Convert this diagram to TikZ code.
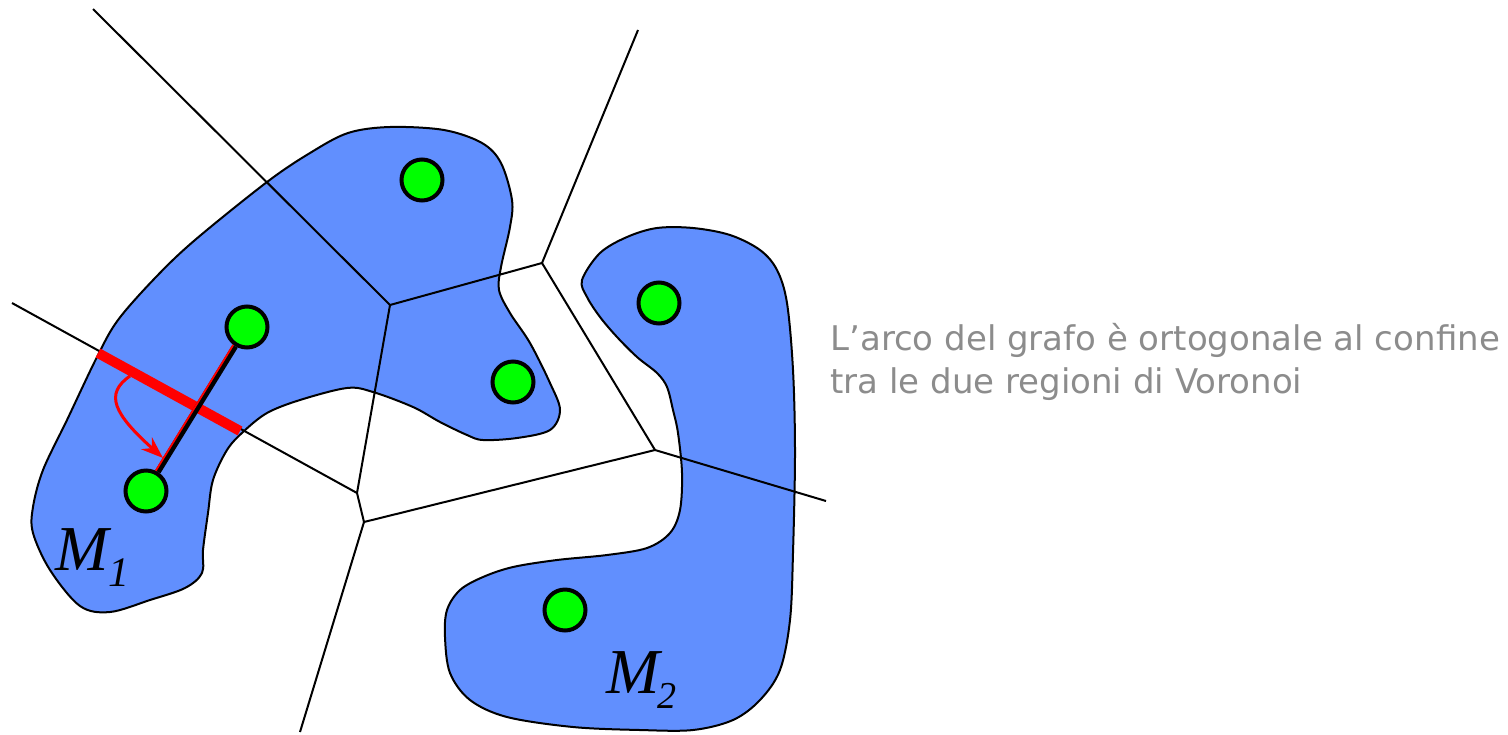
\documentclass[tikz,border=0pt]{standalone}
\usepackage{fontspec}
\setmainfont{Liberation Serif}
\newfontfamily\notefont{DejaVu Sans}
\definecolor{vblue}{RGB}{97,143,254}
\definecolor{vgreen}{RGB}{0,255,0}
\definecolor{vred}{RGB}{255,0,0}
\definecolor{vgray}{RGB}{140,140,140}
\usetikzlibrary{arrows.meta}

\begin{document}
\begin{tikzpicture}[
  x=0.5pt, y=-0.5pt,
  blob/.style={draw,fill=vblue,line width=1pt},
  cell/.style={draw,line width=1pt},
  site/.style={circle,draw,fill=vgreen,line width=2pt,minimum size=20.5pt,inner sep=0pt},
  mlabel/.style={font=\fontsize{32}{32}\selectfont\itshape,inner sep=0pt},
]
  \useasboundingbox (0,0) rectangle (1508,734);

  % Clusters
  \draw[blob] plot[smooth cycle,tension=0.55] coordinates {
    (267,182) (310,153) (348,133) (390,127) (444,130) (482,143) (501,163)
    (512,200) (510,227) (501,267) (499,290) (510,313) (530,343) (550,383)
    (560,410) (550,430) (517,438) (483,440) (467,435) (440,422) (413,407)
    (373,392) (347,388) (300,400) (267,413) (243,432) (227,450) (213,480)
    (208,513) (203,550) (202,573) (185,588) (150,600) (110,612) (80,606)
    (50,570) (33,533) (33,507) (43,470) (67,420) (97,357) (118,320)
    (156,277) (195,240)};
  \draw[blob] plot[smooth cycle,tension=0.55] coordinates {
    (600,253) (627,237) (657,228) (693,228) (730,235) (760,250) (777,270)
    (787,303) (793,370) (795,453) (793,553) (790,620) (780,670) (760,700)
    (733,720) (693,730) (640,730) (573,727) (507,717) (470,700) (450,673)
    (445,637) (447,610) (460,590) (483,577) (513,567) (557,560) (607,555)
    (647,548) (670,533) (680,510) (682,473) (678,433) (673,410) (667,387)
    (657,373) (637,357) (617,337) (600,317) (587,297) (582,280)};

  % Voronoi vertices
  \coordinate (v1) at (390,305);
  \coordinate (v2) at (542,263);
  \coordinate (v3) at (357,493);
  \coordinate (v4) at (655,450);
  \coordinate (v5) at (364,522);
  \coordinate (e1) at (93,9);
  \coordinate (e2) at (638,30);
  \coordinate (e3) at (826,501);
  \coordinate (e4) at (300,732);
  \coordinate (e5) at (12,303);

  \draw[cell] (e1) -- (v1) -- (v2) -- (e2);
  \draw[cell] (v1) -- (v3) -- (v5) -- (v4) -- (e3);
  \draw[cell] (v2) -- (v4);
  \draw[cell] (e5) -- (v3);
  \draw[cell] (v5) -- (e4);

  % Shared boundary
  \coordinate (ba) at (98,353);
  \coordinate (bb) at (240,431);
  \draw[vred,line width=5pt] (ba) -- (bb);

  % Sites
  \node[site] (pa) at (422,180) {};
  \node[site] (pb) at (247,327) {};
  \node[site] (pc) at (513,382) {};
  \node[site] (pd) at (146,491) {};
  \node[site] (pe) at (659,303) {};
  \node[site] (pf) at (565,610) {};

  % Graph edge
  \draw[line width=3pt] (pb) -- (pd);
  \draw[vred,line width=0.9pt,transform canvas={xshift=-1pt,yshift=0.6pt}] (pb) -- (pd);

  % Orthogonality
  \coordinate (ar1) at (130,376);
  \coordinate (ar2) at (163,458);
  \draw[vred,line width=1.5pt,-{Stealth[length=11pt,width=8pt]}]
    (ar1) .. controls (104,394) and (114,414) .. (ar2);

  % Labels
  \node[mlabel,anchor=base west] (m1) at (55,570)
    {M\raisebox{-8pt}{\fontsize{21}{21}\selectfont 1}};
  \node[mlabel,anchor=base west] (m2) at (606,693)
    {M\kern-1pt\raisebox{-7.5pt}{\fontsize{19}{19}\selectfont 2}};

  \node[anchor=base west,align=left,inner sep=0pt,text=vgray,
        font=\notefont\fontsize{17}{21.5}\selectfont] (note) at (830,393)
    {L’arco del grafo è ortogonale al confine\\tra le due regioni di Voronoi};
\end{tikzpicture}
\end{document}
